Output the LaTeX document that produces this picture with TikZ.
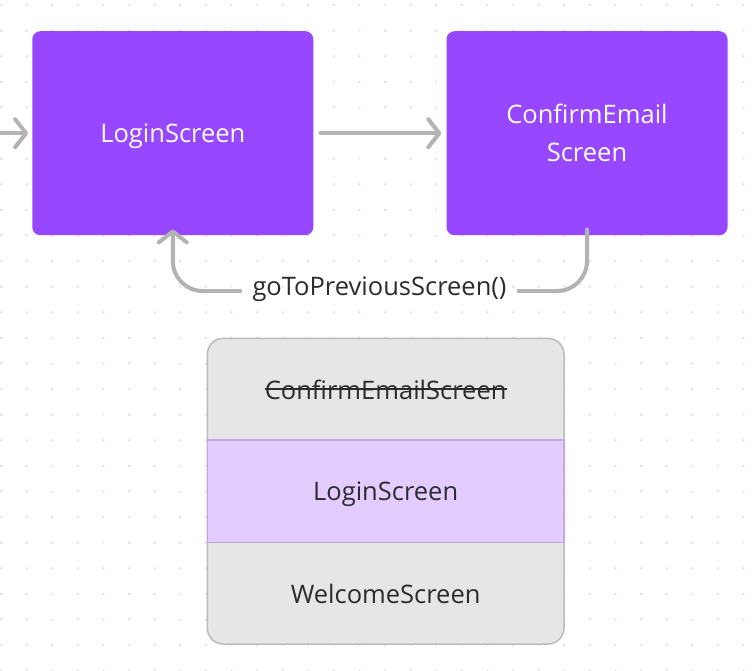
\documentclass[tikz,border=0pt]{standalone}
\usepackage{fontspec}
\setmainfont{Open Sans}
\usetikzlibrary{arrows.meta,calc}
\definecolor{purp}{HTML}{9747FF}
\definecolor{dotc}{HTML}{D9D9D9}
\definecolor{conncol}{HTML}{B3B3B3}
\definecolor{txtdark}{HTML}{2C2C2C}
\definecolor{stackfill}{HTML}{E6E6E6}
\definecolor{stackline}{HTML}{BBBBBB}
\definecolor{midfill}{HTML}{E3CCFF}
\definecolor{midline}{HTML}{C4A6E6}
\tikzset{
  screenbox/.style={fill=purp, rounded corners=8pt, minimum width=281pt, minimum height=204pt, text=white, align=center, font=\fontsize{25.5}{38}\selectfont},
  conn/.style={draw=conncol, line width=4pt, line cap=round, line join=round},
  tipc/.style={-{Straight Barb[length=11pt,width=28pt,round]}},
  rowbox/.style={minimum width=356.7pt, minimum height=102.2pt, inner sep=0pt, text=txtdark, font=\fontsize{25.5}{30}\selectfont},
  lbl/.style={text=txtdark, font=\fontsize{25.5}{30}\selectfont, inner sep=12pt}
}
\begin{document}
\begin{tikzpicture}[x=1pt,y=-1pt]
\useasboundingbox (0,0) rectangle (752,670);
\fill[white] (0,0) rectangle (752,670);
\foreach \i in {0,...,29}{
  \foreach \j in {0,...,26}{
    \fill[dotc] (1.1+25.6*\i, 5+25.6*\j) circle (1.1pt);
  }
}
\node[screenbox, text depth=0pt] (login) at (172.8,133.2) {LoginScreen};
\node[screenbox] (confirm) at (587,133.2) {ConfirmEmail\\Screen};

\coordinate (entry) at (-6,133.2);
\draw[conn,tipc] (entry) -- ([xshift=-4pt]login.west);
\draw[conn,tipc] ([xshift=7pt]login.east) -- ([xshift=-5pt]confirm.west);

\node[lbl] (back) at (379.5,289) {goToPreviousScreen()};
\draw[conn, rounded corners=30pt] ([yshift=6pt]confirm.south) |- ([yshift=-2pt]back.east);
\draw[conn, tipc, rounded corners=30pt] ([yshift=-2pt]back.west) -| ([yshift=6pt]login.south);

% stack
\node[draw=stackline, line width=1.5pt, fill=stackfill, rounded corners=16pt, minimum width=356.7pt, minimum height=305.7pt, inner sep=0pt] (stack) at (385.65,491.15) {};
\node[rowbox, fill=midfill, draw=midline, line width=1.5pt, text depth=0pt] (rowB) at (stack.center) {LoginScreen};
\node[rowbox, anchor=south] (rowA) at (rowB.north) {};
\node[rowbox, anchor=north] (rowC) at (rowB.south) {WelcomeScreen};
\node[text=txtdark, font=\fontsize{25.5}{30}\selectfont, inner sep=0pt] (struck) at ([yshift=-2pt]rowA.center) {ConfirmEmailScreen};
\draw[txtdark, line width=1.4pt] ([yshift=1pt]struck.west) -- ([yshift=1pt]struck.east);
\end{tikzpicture}
\end{document}
